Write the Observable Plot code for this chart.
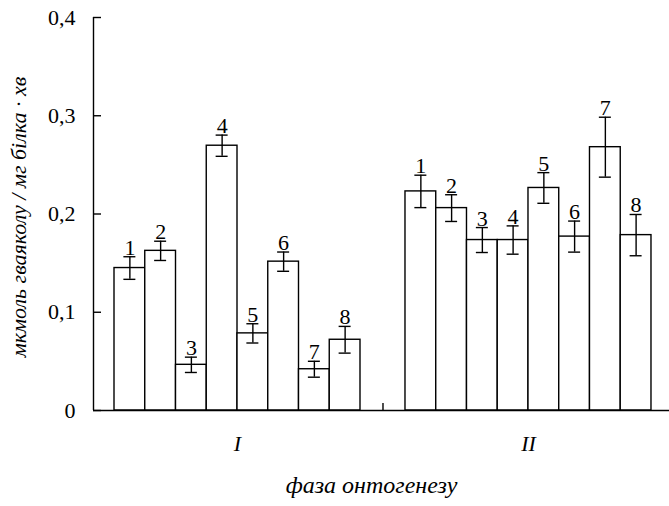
<!DOCTYPE html>
<html>
<head>
<meta charset="utf-8">
<script src="https://cdn.jsdelivr.net/npm/d3@7"></script>
<script src="https://cdn.jsdelivr.net/npm/@observablehq/plot@0.6"></script>
<style>
  html, body { margin: 0; padding: 0; background: #fff; }
  svg { font-family: "Liberation Serif", "DejaVu Serif", serif; }
</style>
</head>
<body>
<div id="chart"></div>
<script>
// ---- data ----
const groups = ["I", "II"];
const barLabels = ["1", "2", "3", "4", "5", "6", "7", "8"];
const meansI  = [0.145, 0.1625, 0.0465, 0.2695, 0.0785, 0.1515, 0.042, 0.072];
const errsI   = [0.0115, 0.0098, 0.0078, 0.0108, 0.0098, 0.0098, 0.0081, 0.0136];
const meansII = [0.223, 0.206, 0.1735, 0.1735, 0.2265, 0.177, 0.268, 0.1785];
const errsII  = [0.0165, 0.0136, 0.0127, 0.0144, 0.0156, 0.0158, 0.0305, 0.021];
const yTicks = [0, 0.1, 0.2, 0.3, 0.4];
const yTitle = "мкмоль гваяколу / мг білка · хв";
const xTitle = "фаза онтогенезу";

// ---- layout (in bar-width units) ----
const gap = 1.463;          // space between the two groups
const leftPad = 0.683;      // space between y axis and first bar
const rightPad = 0.586;     // space after last bar
const groupStart = groups.map((g, gi) => gi * (barLabels.length + gap));
const xMin = -leftPad;
const xMax = groupStart[1] + barLabels.length + rightPad;

const table = [];
[[meansI, errsI], [meansII, errsII]].forEach(([m, e], gi) => {
  m.forEach((v, k) => {
    const x1 = groupStart[gi] + k;
    table.push({group: groups[gi], label: barLabels[k], value: v, err: e[k],
                x1, x2: x1 + 1, xc: x1 + 0.5, lo: v - e[k], hi: v + e[k]});
  });
});
const groupTable = groups.map((g, gi) => ({group: g, xc: groupStart[gi] + barLabels.length / 2}));
const gapMid = [barLabels.length + gap / 2];

const fmt = d => d === 0 ? "0" : d.toFixed(1).replace(".", ",");
const serif = "Liberation Serif";

const chart = Plot.plot({
  width: 669,
  height: 506,
  marginTop: 17,
  marginBottom: 96,
  marginLeft: 93,
  marginRight: 0,
  x: {domain: [xMin, xMax], axis: null},
  y: {domain: [0, 0.4], axis: null},
  style: {fontFamily: serif, color: "black", background: "white"},
  marks: [
    Plot.rectY(table, {x1: "x1", x2: "x2", y: "value", fill: "white", stroke: "black", strokeWidth: 1.4}),
    Plot.ruleX(table, {x: "xc", y1: "lo", y2: "hi", stroke: "black", strokeWidth: 1.4}),
    Plot.ruleY(table, {y: "lo", x1: "xc", x2: "xc", insetLeft: -6, insetRight: -6, stroke: "black", strokeWidth: 1.4}),
    Plot.ruleY(table, {y: "hi", x1: "xc", x2: "xc", insetLeft: -6, insetRight: -6, stroke: "black", strokeWidth: 1.4}),
    Plot.text(table, {x: "xc", y: "hi", text: "label", dy: -2, lineAnchor: "bottom", fontSize: 22, fontFamily: serif, fill: "black"}),
    // axes lines
    Plot.ruleY([0], {stroke: "black", strokeWidth: 1.4}),
    Plot.ruleX([xMin], {stroke: "black", strokeWidth: 1.4}),
    // inward y ticks
    Plot.ruleY(yTicks, {x1: xMin, x2: xMin, insetRight: -8, stroke: "black", strokeWidth: 1.4}),
    // small tick between groups
    Plot.ruleX(gapMid, {y1: 0, y2: 0.0072, stroke: "black", strokeWidth: 1.4}),
    // y tick labels
    Plot.text(yTicks, {y: d => d, text: fmt, frameAnchor: "left", textAnchor: "end", dx: -18, fontSize: 22, fontFamily: serif, fill: "black"}),
    // group labels
    Plot.text(groupTable, {x: "xc", text: "group", frameAnchor: "bottom", dy: 40, fontSize: 22, fontStyle: "italic", fontFamily: serif, fill: "black"}),
    // titles
    Plot.text([xTitle], {frameAnchor: "bottom", textAnchor: "middle", dx: -10, dy: 82, fontSize: 24, fontStyle: "italic", fontFamily: serif, fill: "black"}),
    Plot.text([yTitle], {frameAnchor: "left", textAnchor: "middle", dx: -75, dy: 3, rotate: -90, fontSize: 22, fontStyle: "italic", fontFamily: serif, fill: "black"})
  ]
});
document.getElementById("chart").appendChild(chart);
</script>
</body>
</html>
